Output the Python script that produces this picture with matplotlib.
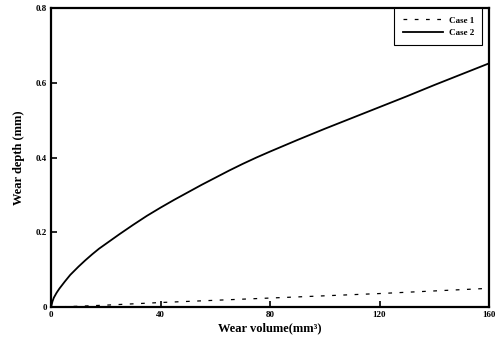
# Wear depth vs wear volume, two cases
import matplotlib
matplotlib.use("Agg")
import matplotlib.pyplot as plt

plt.rcParams['font.family'] = ['Liberation Serif', 'DejaVu Serif']
plt.rcParams['font.weight'] = 'bold'

# Case 1 (dashed)
case1_x = [0, 10, 20, 40, 60, 80, 100, 120, 140, 160]
case1_y = [0, 0.002, 0.005, 0.012, 0.018, 0.024, 0.030, 0.036, 0.043, 0.050]

# Case 2 (solid)
case2_x = [0, 0.5, 1, 2, 3, 5, 7, 10, 12.5, 15, 17.5, 20, 25, 30, 35, 40, 45,
           50, 55, 60, 65, 70, 75, 80, 90, 100, 110, 120, 130, 140, 150, 160]
case2_y = [0, 0.015, 0.025, 0.038, 0.049, 0.068, 0.086, 0.108, 0.125, 0.141,
           0.156, 0.169, 0.195, 0.220, 0.244, 0.266, 0.287, 0.307, 0.327,
           0.346, 0.365, 0.383, 0.400, 0.416, 0.447, 0.477, 0.506, 0.535,
           0.564, 0.594, 0.623, 0.652]

x_ticks = [0, 40, 80, 120, 160]
y_ticks = [0, 0.2, 0.4, 0.6, 0.8]
y_tick_labels = ['0', '0.2', '0.4', '0.6', '0.8']

fig = plt.figure(figsize=(5.01, 3.37), dpi=100)
ax = fig.add_axes([0.102, 0.089, 0.874, 0.887])

ax.plot(case1_x, case1_y, color='black', lw=0.9, dashes=(3, 6), label='Case 1')
ax.plot(case2_x, case2_y, color='black', lw=1.3, label='Case 2')

ax.set_xlim(0, 160)
ax.set_ylim(0, 0.8)
ax.set_xticks(x_ticks)
ax.set_xticklabels([str(v) for v in x_ticks])
ax.set_yticks(y_ticks)
ax.set_yticklabels(y_tick_labels)
ax.tick_params(direction='in', length=4, width=1.2, labelsize=6.5, pad=3)

for s in ax.spines.values():
    s.set_linewidth(1.6)

ax.set_xlabel('Wear volume(mm³)', fontsize=9, fontweight='bold', labelpad=2)
ax.set_ylabel('Wear depth (mm)', fontsize=9, fontweight='bold', labelpad=8)

leg = ax.legend(loc='upper right', bbox_to_anchor=(0.984, 1.0), borderaxespad=0,
                fancybox=False, edgecolor='black', framealpha=1, fontsize=6.5,
                handlelength=4.5, handletextpad=0.6, labelspacing=0.5,
                borderpad=0.9)
leg.get_frame().set_linewidth(0.8)

fig.savefig('out.png', dpi=100)
